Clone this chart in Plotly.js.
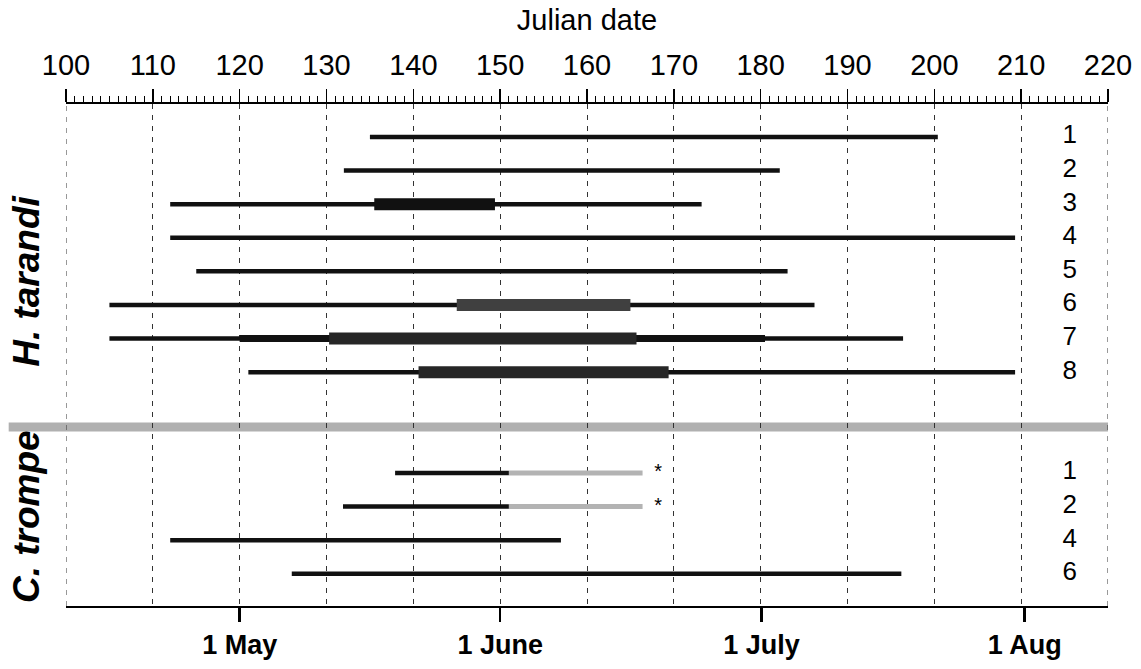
<!DOCTYPE html>
<html>
<head>
<meta charset="utf-8">
<script src="https://cdn.plot.ly/plotly-3.0.1.min.js"></script>
<style>html,body{margin:0;padding:0;background:#fff;}#chart{width:1141px;height:669px;}</style>
</head>
<body>
<div id="chart"></div>
<script>
// ---- data ----
const hRows = ['1','2','3','4','5','6','7','8'];
const hStart = [135, 132, 112, 112, 115, 105, 105, 121];
const hEnd   = [200.4, 182.2, 173.2, 209.3, 183.1, 186.2, 196.4, 209.3];
const hPeakStart = [null, null, 135.5, null, null, 145, 130.3, 140.6];
const hPeakEnd   = [null, null, 149.4, null, null, 165, 165.7, 169.4];
const hMidStart  = [null, null, null, null, null, null, 120, null];
const hMidEnd    = [null, null, null, null, null, null, 180.5, null];

const cRows = ['1','2','4','6'];
const cStart = [137.9, 131.9, 112, 126];
const cEnd   = [151, 151, 157, 196.2];
const cExtEnd = [166.4, 166.4, null, null];   // grey extension (marked *)

const topTicks = [100,110,120,130,140,150,160,170,180,190,200,210,220];
const monthTicks = [120, 150, 180.1, 210.4];
const monthLabels = ['1 May', '1 June', '1 July', '1 Aug'];

// ---- row positions (category index) ----
const hY = hRows.map((_, i) => i);
const cY = cRows.map((_, i) => i + 10);

const traces = [];
function seg(x0, x1, y, w, color) {
  traces.push({type:'scatter', mode:'lines', x:[x0, x1], y:[y, y],
    line:{color:color, width:w}, hoverinfo:'skip', showlegend:false});
}
hRows.forEach((r, i) => {
  seg(hStart[i], hEnd[i], hY[i], 4.5, '#111');
  if (hMidStart[i] != null) seg(hMidStart[i], hMidEnd[i], hY[i], 7, '#111');
  if (hPeakStart[i] != null) seg(hPeakStart[i], hPeakEnd[i], hY[i], 12, i === 2 ? '#111' : (i === 5 ? '#404040' : '#262626'));
});
cRows.forEach((r, i) => {
  if (cExtEnd[i] != null) seg(cEnd[i], cExtEnd[i], cY[i], 5, '#b3b3b3');
  seg(cStart[i], cEnd[i], cY[i], 4.5, '#111');
});
// asterisks
traces.push({type:'scatter', mode:'text',
  x: cExtEnd.filter(v => v != null).map(v => v + 1.8),
  y: cY.filter((_, i) => cExtEnd[i] != null),
  text: cExtEnd.filter(v => v != null).map(() => '*'),
  textfont:{family:'Liberation Sans, Arial', size:20, color:'#000'},
  textposition:'middle center', hoverinfo:'skip', showlegend:false});
// row labels on right (top axis trace)
traces.push({type:'scatter', mode:'text', xaxis:'x2',
  x: hRows.map(() => 215.6).concat(cRows.map(() => 215.6)),
  y: hY.concat(cY),
  text: hRows.concat(cRows),
  textfont:{family:'Liberation Sans, Arial', size:26, color:'#000'},
  textposition:'middle center', hoverinfo:'skip', showlegend:false});

const edgeShapes = [topTicks[0], topTicks[topTicks.length - 1]].map(v => ({
  type:'line', xref:'x', yref:'paper', x0:v, x1:v, y0:0, y1:1,
  line:{color:'#333', width:1, dash:'5px,6px'}, layer:'below'}));

const layout = {
  width:1141, height:669,
  margin:{l:66, r:33, t:104, b:63},
  paper_bgcolor:'#fff', plot_bgcolor:'#fff',
  showlegend:false,
  xaxis:{
    range:[100,220], showgrid:false, zeroline:false,
    tickmode:'array', tickvals:monthTicks, ticktext:monthLabels,
    ticks:'outside', ticklen:14, tickwidth:2.5, tickcolor:'#000',
    showline:true, linewidth:2, linecolor:'#000',
    tickfont:{family:'Liberation Sans, Arial', size:27, color:'#000', weight:'bold'}
  },
  xaxis2:{
    overlaying:'x', side:'top', anchor:'y',
    range:[100,220], tickmode:'array', tickvals:topTicks,
    ticks:'outside', ticklen:13, tickwidth:1.5, tickcolor:'#000',
    minor:{dtick:1, ticklen:6, ticks:'outside', tickwidth:1, tickcolor:'#000', showgrid:false},
    showline:true, linewidth:2, linecolor:'#000',
    showgrid:true, gridcolor:'#333', gridwidth:1, griddash:'5px,6px', zeroline:false,
    ticklabelstandoff:2,
    tickfont:{family:'Liberation Sans, Arial', size:29, color:'#000'},
    title:{text:'Julian date', font:{family:'Liberation Sans, Arial', size:29, color:'#000'}, standoff:10}
  },
  yaxis:{
    range:[13.96, -0.98], showgrid:false, zeroline:false, showline:false,
    showticklabels:false, ticks:''
  },
  shapes:[
    {type:'line', xref:'paper', yref:'y', x0:-0.055, x1:1, y0:8.63, y1:8.63,
     line:{color:'#b0b0b0', width:9}, layer:'below'}
  ].concat(edgeShapes),
  annotations:[
    {text:'<b><i>H. tarandi</i></b>', xref:'paper', yref:'y', x:-0.038, y:4.3,
     textangle:-90, showarrow:false, xanchor:'center', yanchor:'middle',
     font:{family:'Liberation Sans, Arial', size:37, color:'#000'}},
    {text:'<b><i>C. trompe</i></b>', xref:'paper', yref:'y', x:-0.038, y:11.3,
     textangle:-90, showarrow:false, xanchor:'center', yanchor:'middle',
     font:{family:'Liberation Sans, Arial', size:37, color:'#000'}}
  ]
};
Plotly.newPlot('chart', traces, layout, {displayModeBar:false, staticPlot:true});
</script>
</body>
</html>
